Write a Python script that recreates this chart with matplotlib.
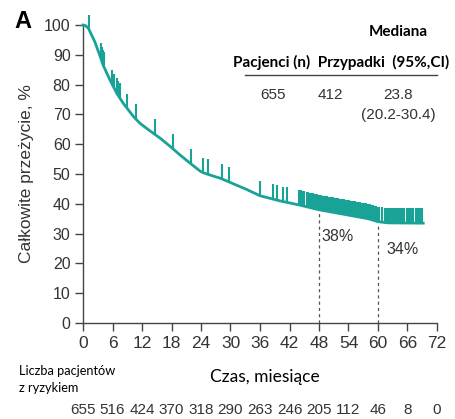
import matplotlib
matplotlib.use("Agg")
import matplotlib.pyplot as plt
import matplotlib.transforms as mtrans
import numpy as np

# krzywa przezycia
czas = [0, 0.5, 1.1, 2.4, 3.5, 4.1, 5.5, 6.9, 8.2, 10.3, 11.6, 13.6, 15.7, 17.7,
        19.8, 21.8, 23.8, 24.5, 26.5, 27.9, 29.9, 33.3, 36, 40, 44, 48, 53, 58, 60, 62, 69.2]
przezycie = [100, 99.8, 98.9, 94.4, 89.4, 86.5, 81.5, 77, 73.7, 69.2, 67, 64.5, 62, 59.3,
             56.3, 53.6, 51, 50.4, 49.3, 48.6, 47.2, 44.8, 42.7, 41, 39.6, 38, 36.5, 35, 34, 33.6, 33.5]

# obserwacje ucenzurowane
cenzura = [1.3, 3.6, 3.9, 4.1, 4.3, 5.95, 6.4, 6.85, 7.2, 7.5, 9.0, 10.7, 14.6, 18.3,
           22, 24.5, 25.4, 28.2, 29.7, 36, 38.6, 39.4, 40.6, 41.4,
           44.0, 44.3, 44.6, 44.9, 45.5, 45.8, 46.1, 46.4, 46.7, 47.0, 47.3, 47.6, 47.9,
           48.2, 48.5, 48.8, 49.1, 49.4, 49.7, 50.0, 50.3, 50.6, 50.9, 51.2, 51.5, 51.8,
           52.1, 52.4, 52.7, 53.0, 53.3, 53.6, 53.9, 54.2, 54.5, 54.8, 55.1, 55.4, 55.7,
           56.0, 56.3, 56.6, 56.9, 57.2, 57.5, 57.8, 58.1, 58.4, 58.7, 59.0, 59.3, 59.6,
           59.9, 60.2, 60.8, 61.4, 61.7, 62.0, 62.3, 62.6, 62.9, 63.2, 63.5, 63.8, 64.1,
           64.4, 64.7, 65.0, 65.3, 65.9, 66.2, 66.5, 66.8, 67.1, 67.8, 68.1, 68.4, 68.7, 69.0]

punkty_czasu = [48, 60]
punkty_proc = ["38%", "34%"]

xticks = list(range(0, 73, 6))
narazeni = [655, 516, 424, 370, 318, 290, 263, 246, 205, 112, 46, 8, 0]

kolor = "#19a396"
szary = "#333333"
arial = ["Liberation Sans Narrow", "Liberation Sans", "DejaVu Sans"]
calibri = ["Lato", "DejaVu Sans"]

W, H = 455, 419
fig = plt.figure(figsize=(W / 100, H / 100), dpi=100)
ax = fig.add_axes([83 / W, 1 - 323 / H, (437 - 83) / W, (323 - 25) / H])

ax.plot(czas, przezycie, color=kolor, lw=2.0, clip_on=False, zorder=3)
baza = np.interp(cenzura, czas, przezycie)
ax.vlines(cenzura, baza, baza + 5, color=kolor, lw=1.5, clip_on=False, zorder=3)

for t in punkty_czasu:
    s = np.interp(t, czas, przezycie)
    ax.plot([t, t], [0, s - 0.8], color="#555555", lw=0.9, ls=(0, (2.5, 2.5)), zorder=2)
ax.text(48.4, 29, punkty_proc[0], fontsize=11.5, family=arial, color=szary, va="center")
ax.text(61.7, 24.5, punkty_proc[1], fontsize=11.5, family=arial, color=szary, va="center")

ax.set_xlim(0, 72)
ax.set_ylim(0, 100)
ax.set_xticks(xticks)
ax.set_yticks(range(0, 101, 10))
for sp in ["top", "right"]:
    ax.spines[sp].set_visible(False)
for sp in ["left", "bottom"]:
    ax.spines[sp].set_color("#444444")
    ax.spines[sp].set_linewidth(1.0)
ax.tick_params(direction="out", length=6, width=1.0, color="#444444", pad=3)
for lab in ax.get_xticklabels() + ax.get_yticklabels():
    lab.set_family(arial)
    lab.set_fontsize(12.5)
    lab.set_color(szary)
for lab in ax.get_yticklabels():
    lab.set_fontsize(11.5)

ax.set_ylabel("Całkowite przeżycie, %", family=arial, fontsize=12.5, color=szary, labelpad=7)

# panel
fig.text(14 / W, 1 - 22 / H, "A", fontsize=17, fontweight="bold", family="Liberation Sans",
         va="center", ha="left")

# tabela z mediana
fig.text(398 / W, 1 - 32 / H, "Mediana", fontsize=11, fontweight="bold", family=calibri,
         ha="center", va="center")
fig.text(341 / W, 1 - 62 / H, "Pacjenci (n)  Przypadki  (95%,CI)", fontsize=11,
         fontweight="bold", family=calibri, ha="center", va="center")
fig.add_artist(plt.Line2D([245 / W, 437 / W], [1 - 75 / H, 1 - 75 / H], color="#444444", lw=1.0))
for x, y, s in [(273, 95, "655"), (330, 95, "412"), (398, 95, "23.8"), (398, 115, "(20.2-30.4)")]:
    fig.text(x / W, 1 - y / H, s, fontsize=11, family=arial, ha="center", va="center", color=szary)

# os x i liczba narazonych
fig.text(265 / W, 1 - 377 / H, "Czas, miesiące", fontsize=12.5, family=calibri, ha="center", va="center")
fig.text(19 / W, 1 - 371 / H, "Liczba pacjentów", fontsize=9.2, family=calibri, ha="left", va="center")
fig.text(19 / W, 1 - 388 / H, "z ryzykiem", fontsize=9.2, family=calibri, ha="left", va="center")
przes = ax.get_xaxis_transform() + mtrans.ScaledTranslation(0, -87 / 100, fig.dpi_scale_trans)
for t, n in zip(xticks, narazeni):
    ax.text(t, 0, str(n), transform=przes, fontsize=11, family=arial,
            ha="center", va="center", color=szary)

fig.savefig("out.png", dpi=100)
